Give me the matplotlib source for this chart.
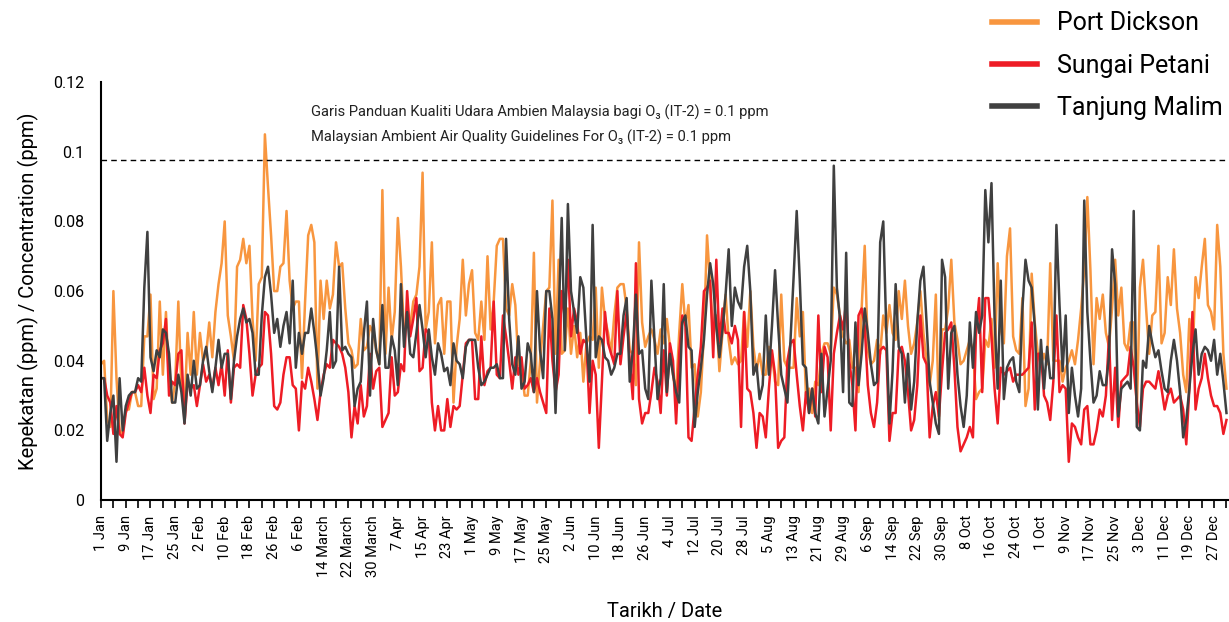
import numpy as np
import matplotlib
matplotlib.use("Agg")
import matplotlib.pyplot as plt
from matplotlib.lines import Line2D

plt.rcParams['font.family'] = ['Roboto', 'DejaVu Sans']

# daily O3 readings (ppm), 1 Jan .. 31 Dec
port_dickson = [
    0.039, 0.040, 0.023, 0.021, 0.060, 0.035, 0.020, 0.019, 0.026, 0.026,
    0.031, 0.031, 0.027, 0.027, 0.047, 0.047, 0.059, 0.029, 0.032, 0.057,
    0.036, 0.054, 0.034, 0.028, 0.034, 0.057, 0.032, 0.026, 0.048, 0.036,
    0.054, 0.036, 0.048, 0.040, 0.042, 0.051, 0.041, 0.054, 0.062, 0.068,
    0.080, 0.053, 0.047, 0.040, 0.067, 0.069, 0.075, 0.068, 0.073, 0.052,
    0.040, 0.062, 0.064, 0.105, 0.090, 0.076, 0.060, 0.060, 0.067, 0.068,
    0.083, 0.063, 0.055, 0.057, 0.057, 0.035, 0.057, 0.076, 0.079, 0.074,
    0.032, 0.063, 0.052, 0.063, 0.055, 0.059, 0.074, 0.067, 0.068, 0.055,
    0.045, 0.043, 0.038, 0.039, 0.052, 0.043, 0.044, 0.050, 0.048, 0.043,
    0.039, 0.089, 0.042, 0.061, 0.046, 0.054, 0.081, 0.067, 0.048, 0.050,
    0.050, 0.057, 0.059, 0.067, 0.094, 0.049, 0.054, 0.074, 0.045, 0.056,
    0.058, 0.042, 0.057, 0.057, 0.028, 0.044, 0.052, 0.069, 0.053, 0.062,
    0.066, 0.048, 0.046, 0.057, 0.046, 0.070, 0.049, 0.057, 0.073, 0.075,
    0.075, 0.055, 0.053, 0.062, 0.056, 0.039, 0.038, 0.030, 0.030, 0.040,
    0.071, 0.028, 0.040, 0.050, 0.060, 0.061, 0.086, 0.042, 0.069, 0.042,
    0.043, 0.055, 0.042, 0.050, 0.041, 0.048, 0.034, 0.045, 0.047, 0.046,
    0.061, 0.038, 0.061, 0.052, 0.048, 0.042, 0.053, 0.061, 0.062, 0.062,
    0.055, 0.043, 0.042, 0.033, 0.074, 0.051, 0.044, 0.047, 0.049, 0.046,
    0.042, 0.049, 0.045, 0.052, 0.044, 0.036, 0.031, 0.048, 0.062, 0.050,
    0.056, 0.038, 0.039, 0.024, 0.031, 0.048, 0.076, 0.062, 0.047, 0.053,
    0.037, 0.048, 0.059, 0.046, 0.039, 0.041, 0.039, 0.040, 0.054, 0.044,
    0.060, 0.044, 0.037, 0.042, 0.036, 0.036, 0.044, 0.042, 0.034, 0.033,
    0.059, 0.040, 0.038, 0.038, 0.038, 0.058, 0.047, 0.054, 0.030, 0.032,
    0.025, 0.034, 0.033, 0.042, 0.045, 0.045, 0.042, 0.061, 0.059, 0.053,
    0.047, 0.045, 0.046, 0.038, 0.038, 0.031, 0.055, 0.073, 0.043, 0.039,
    0.040, 0.046, 0.042, 0.053, 0.048, 0.056, 0.048, 0.046, 0.060, 0.052,
    0.063, 0.050, 0.042, 0.045, 0.051, 0.060, 0.048, 0.040, 0.033, 0.040,
    0.059, 0.023, 0.049, 0.049, 0.055, 0.069, 0.051, 0.046, 0.039, 0.040,
    0.043, 0.046, 0.043, 0.029, 0.031, 0.032, 0.046, 0.044, 0.052, 0.038,
    0.068, 0.049, 0.045, 0.070, 0.078, 0.047, 0.043, 0.042, 0.058, 0.027,
    0.032, 0.065, 0.051, 0.042, 0.039, 0.042, 0.039, 0.068, 0.040, 0.040,
    0.040, 0.034, 0.038, 0.040, 0.043, 0.039, 0.046, 0.055, 0.066, 0.087,
    0.066, 0.039, 0.058, 0.052, 0.059, 0.048, 0.044, 0.055, 0.069, 0.053,
    0.061, 0.045, 0.043, 0.051, 0.051, 0.025, 0.061, 0.069, 0.055, 0.042,
    0.053, 0.054, 0.073, 0.045, 0.048, 0.064, 0.056, 0.072, 0.055, 0.048,
    0.036, 0.031, 0.052, 0.040, 0.064, 0.058, 0.067, 0.075, 0.056, 0.054,
    0.049, 0.079, 0.067, 0.042, 0.032,
]

sungai_petani = [
    0.035, 0.035, 0.030, 0.028, 0.019, 0.027, 0.019, 0.018, 0.025, 0.028,
    0.031, 0.031, 0.033, 0.031, 0.038, 0.030, 0.025, 0.036, 0.035, 0.043,
    0.045, 0.052, 0.030, 0.034, 0.033, 0.042, 0.043, 0.022, 0.034, 0.032,
    0.033, 0.027, 0.033, 0.039, 0.034, 0.036, 0.032, 0.038, 0.033, 0.039,
    0.030, 0.043, 0.028, 0.038, 0.039, 0.038, 0.056, 0.052, 0.042, 0.030,
    0.036, 0.038, 0.039, 0.054, 0.053, 0.042, 0.027, 0.026, 0.028, 0.036,
    0.041, 0.041, 0.033, 0.032, 0.020, 0.034, 0.032, 0.038, 0.034, 0.029,
    0.023, 0.031, 0.036, 0.039, 0.038, 0.046, 0.045, 0.044, 0.042, 0.038,
    0.031, 0.018, 0.027, 0.022, 0.033, 0.024, 0.027, 0.042, 0.032, 0.037,
    0.038, 0.021, 0.023, 0.025, 0.041, 0.030, 0.031, 0.039, 0.037, 0.060,
    0.047, 0.052, 0.058, 0.037, 0.038, 0.049, 0.048, 0.028, 0.020, 0.027,
    0.020, 0.020, 0.029, 0.021, 0.027, 0.026, 0.027, 0.036, 0.045, 0.046,
    0.046, 0.029, 0.029, 0.047, 0.033, 0.037, 0.038, 0.057, 0.036, 0.035,
    0.053, 0.047, 0.040, 0.032, 0.041, 0.036, 0.041, 0.032, 0.033, 0.035,
    0.031, 0.035, 0.031, 0.028, 0.025, 0.055, 0.040, 0.031, 0.036, 0.060,
    0.052, 0.069, 0.047, 0.055, 0.051, 0.042, 0.046, 0.045, 0.025, 0.040,
    0.036, 0.015, 0.034, 0.054, 0.045, 0.042, 0.039, 0.060, 0.039, 0.047,
    0.054, 0.040, 0.029, 0.068, 0.029, 0.022, 0.025, 0.025, 0.031, 0.038,
    0.034, 0.025, 0.043, 0.030, 0.045, 0.040, 0.022, 0.042, 0.053, 0.050,
    0.018, 0.017, 0.027, 0.036, 0.044, 0.060, 0.061, 0.063, 0.041, 0.069,
    0.045, 0.055, 0.048, 0.048, 0.045, 0.050, 0.046, 0.021, 0.054, 0.032,
    0.031, 0.025, 0.015, 0.025, 0.024, 0.018, 0.032, 0.043, 0.036, 0.015,
    0.017, 0.018, 0.040, 0.045, 0.046, 0.036, 0.027, 0.020, 0.031, 0.025,
    0.032, 0.024, 0.053, 0.031, 0.044, 0.041, 0.020, 0.042, 0.048, 0.053,
    0.049, 0.057, 0.040, 0.033, 0.020, 0.053, 0.055, 0.050, 0.033, 0.025,
    0.021, 0.028, 0.043, 0.044, 0.043, 0.017, 0.025, 0.025, 0.043, 0.044,
    0.040, 0.031, 0.020, 0.023, 0.033, 0.053, 0.041, 0.039, 0.018, 0.027,
    0.031, 0.024, 0.037, 0.048, 0.049, 0.051, 0.038, 0.021, 0.014, 0.016,
    0.018, 0.021, 0.018, 0.048, 0.058, 0.031, 0.058, 0.058, 0.047, 0.032,
    0.022, 0.038, 0.036, 0.037, 0.038, 0.034, 0.036, 0.036, 0.036, 0.037,
    0.038, 0.051, 0.026, 0.042, 0.042, 0.030, 0.028, 0.023, 0.034, 0.053,
    0.031, 0.033, 0.032, 0.011, 0.022, 0.021, 0.018, 0.016, 0.026, 0.027,
    0.016, 0.016, 0.020, 0.026, 0.024, 0.030, 0.047, 0.023, 0.038, 0.021,
    0.034, 0.035, 0.036, 0.044, 0.038, 0.028, 0.021, 0.032, 0.034, 0.034,
    0.033, 0.032, 0.037, 0.032, 0.026, 0.030, 0.032, 0.028, 0.029, 0.030,
    0.026, 0.016, 0.032, 0.054, 0.026, 0.032, 0.035, 0.042, 0.035, 0.030,
    0.027, 0.027, 0.025, 0.019, 0.023,
]

tanjung_malim = [
    0.035, 0.035, 0.017, 0.025, 0.030, 0.011, 0.035, 0.020, 0.027, 0.030,
    0.031, 0.031, 0.035, 0.034, 0.061, 0.077, 0.041, 0.037, 0.043, 0.041,
    0.049, 0.048, 0.042, 0.028, 0.028, 0.036, 0.031, 0.022, 0.036, 0.030,
    0.040, 0.032, 0.033, 0.040, 0.044, 0.037, 0.031, 0.038, 0.046, 0.038,
    0.042, 0.042, 0.029, 0.040, 0.047, 0.052, 0.055, 0.051, 0.052, 0.048,
    0.036, 0.036, 0.053, 0.064, 0.067, 0.059, 0.048, 0.052, 0.044, 0.050,
    0.054, 0.045, 0.063, 0.038, 0.048, 0.042, 0.048, 0.048, 0.055, 0.048,
    0.040, 0.030, 0.035, 0.043, 0.054, 0.038, 0.040, 0.067, 0.043, 0.044,
    0.042, 0.041, 0.027, 0.032, 0.034, 0.048, 0.057, 0.030, 0.052, 0.043,
    0.039, 0.056, 0.038, 0.038, 0.047, 0.043, 0.033, 0.062, 0.044, 0.054,
    0.042, 0.041, 0.048, 0.056, 0.049, 0.041, 0.049, 0.041, 0.036, 0.045,
    0.042, 0.037, 0.038, 0.033, 0.045, 0.040, 0.039, 0.035, 0.044, 0.046,
    0.046, 0.046, 0.038, 0.033, 0.034, 0.036, 0.038, 0.038, 0.039, 0.035,
    0.035, 0.075, 0.052, 0.039, 0.036, 0.047, 0.032, 0.034, 0.045, 0.042,
    0.031, 0.060, 0.043, 0.035, 0.060, 0.060, 0.052, 0.025, 0.052, 0.081,
    0.043, 0.085, 0.060, 0.054, 0.048, 0.064, 0.061, 0.046, 0.034, 0.079,
    0.041, 0.047, 0.046, 0.041, 0.040, 0.036, 0.038, 0.042, 0.042, 0.053,
    0.058, 0.034, 0.043, 0.059, 0.042, 0.043, 0.032, 0.029, 0.063, 0.046,
    0.029, 0.035, 0.062, 0.031, 0.042, 0.036, 0.031, 0.028, 0.051, 0.053,
    0.044, 0.043, 0.021, 0.031, 0.038, 0.046, 0.059, 0.068, 0.062, 0.050,
    0.041, 0.049, 0.059, 0.072, 0.050, 0.061, 0.057, 0.055, 0.067, 0.073,
    0.060, 0.036, 0.039, 0.029, 0.033, 0.053, 0.036, 0.050, 0.066, 0.050,
    0.036, 0.032, 0.028, 0.046, 0.064, 0.083, 0.063, 0.039, 0.038, 0.025,
    0.032, 0.025, 0.022, 0.042, 0.024, 0.032, 0.040, 0.096, 0.061, 0.052,
    0.031, 0.071, 0.028, 0.027, 0.051, 0.033, 0.042, 0.055, 0.048, 0.039,
    0.033, 0.034, 0.074, 0.080, 0.048, 0.022, 0.037, 0.062, 0.044, 0.042,
    0.028, 0.042, 0.026, 0.034, 0.051, 0.063, 0.067, 0.051, 0.034, 0.028,
    0.022, 0.019, 0.069, 0.064, 0.032, 0.048, 0.050, 0.036, 0.027, 0.021,
    0.030, 0.051, 0.038, 0.054, 0.048, 0.053, 0.089, 0.074, 0.091, 0.052,
    0.032, 0.063, 0.029, 0.038, 0.040, 0.041, 0.034, 0.031, 0.055, 0.069,
    0.063, 0.061, 0.050, 0.026, 0.046, 0.032, 0.044, 0.035, 0.035, 0.079,
    0.056, 0.037, 0.053, 0.025, 0.038, 0.030, 0.024, 0.032, 0.086, 0.054,
    0.040, 0.028, 0.030, 0.037, 0.033, 0.033, 0.041, 0.072, 0.062, 0.024,
    0.032, 0.033, 0.034, 0.032, 0.083, 0.021, 0.020, 0.040, 0.038, 0.050,
    0.045, 0.041, 0.043, 0.037, 0.032, 0.031, 0.040, 0.046, 0.040, 0.031,
    0.018, 0.023, 0.032, 0.042, 0.049, 0.036, 0.042, 0.044, 0.043, 0.040,
    0.046, 0.036, 0.042, 0.034, 0.025,
]

date_labels = [
    '1 Jan', '9 Jan', '17 Jan', '25 Jan', '2 Feb', '10 Feb', '18 Feb', '26 Feb',
    '6 Feb', '14 March', '22 March', '30 March', '7 Apr', '15 Apr', '23 Apr',
    '1 May', '9 May', '17 May', '25 May', '2 Jun', '10 Jun', '18 Jun', '26 Jun',
    '4 Jul', '12 Jul', '20 Jul', '28 Jul', '5 Aug', '13 Aug', '21 Aug', '29 Aug',
    '6 Sep', '14 Sep', '22 Sep', '30 Sep', '8 Oct', '16 Oct', '24 Oct', '1 Oct',
    '9 Nov', '17 Nov', '25 Nov', '3 Dec', '11 Dec', '19 Dec', '27 Dec',
]
y_ticks = [0, 0.02, 0.04, 0.06, 0.08, 0.1, 0.12]
y_labels = ['0', '0.02', '0.04', '0.06', '0.08', '0.1', '0.12']
guideline = 0.0975

series = [
    ('Port Dickson', port_dickson, '#F8963F'),
    ('Sungai Petani', sungai_petani, '#EE1C25'),
    ('Tanjung Malim', tanjung_malim, '#404040'),
]

fig = plt.figure(figsize=(12.29, 6.22), dpi=100)
ax = fig.add_axes([0.0822, 0.196, 0.917, 0.672])

for name, vals, col in series:
    ax.plot(np.arange(len(vals)), vals, color=col, lw=1.8, label=name)

ax.axhline(guideline, color='black', lw=1.0, ls=(0, (4, 3)))

ax.set_xlim(0, 364.5)
ax.set_ylim(0, 0.12)
ax.set_yticks(y_ticks)
ax.set_yticklabels(y_labels, fontsize=11.5)
ax.tick_params(axis='y', length=0, pad=12)

ax.set_xticks(np.arange(len(date_labels)) * 8)
ax.set_xticklabels(date_labels, rotation=90, fontsize=10.5)
ax.set_xticks(np.arange(len(date_labels)) * 8 + 4, minor=True)
ax.tick_params(axis='x', which='both', length=6, width=1.2, direction='out', pad=5)

for s in ['top', 'right']:
    ax.spines[s].set_visible(False)
for s in ['left', 'bottom']:
    ax.spines[s].set_linewidth(1.5)

ax.set_ylabel('Kepekatan (ppm) / Concentration (ppm)', fontsize=14.5, labelpad=10)
ax.set_xlabel('Tarikh / Date', fontsize=14.5, labelpad=18)

ax.text(0.186, 0.927, 'Garis Panduan Kualiti Udara Ambien Malaysia bagi O\u2083 (IT-2) = 0.1 ppm',
        transform=ax.transAxes, fontsize=10.6, va='center', color='#222222')
ax.text(0.186, 0.867, 'Malaysian Ambient Air Quality Guidelines For O\u2083 (IT-2) = 0.1 ppm',
        transform=ax.transAxes, fontsize=10.6, va='center', color='#222222')

handles = [Line2D([0], [0], color=c, lw=4) for _, _, c in series]
fig.legend(handles, [n for n, _, _ in series], loc='upper left',
           bbox_to_anchor=(0.789, 1.018), frameon=False, fontsize=18,
           handlelength=1.8, handletextpad=0.8, labelspacing=0.73)

fig.savefig('out.png', dpi=100)
